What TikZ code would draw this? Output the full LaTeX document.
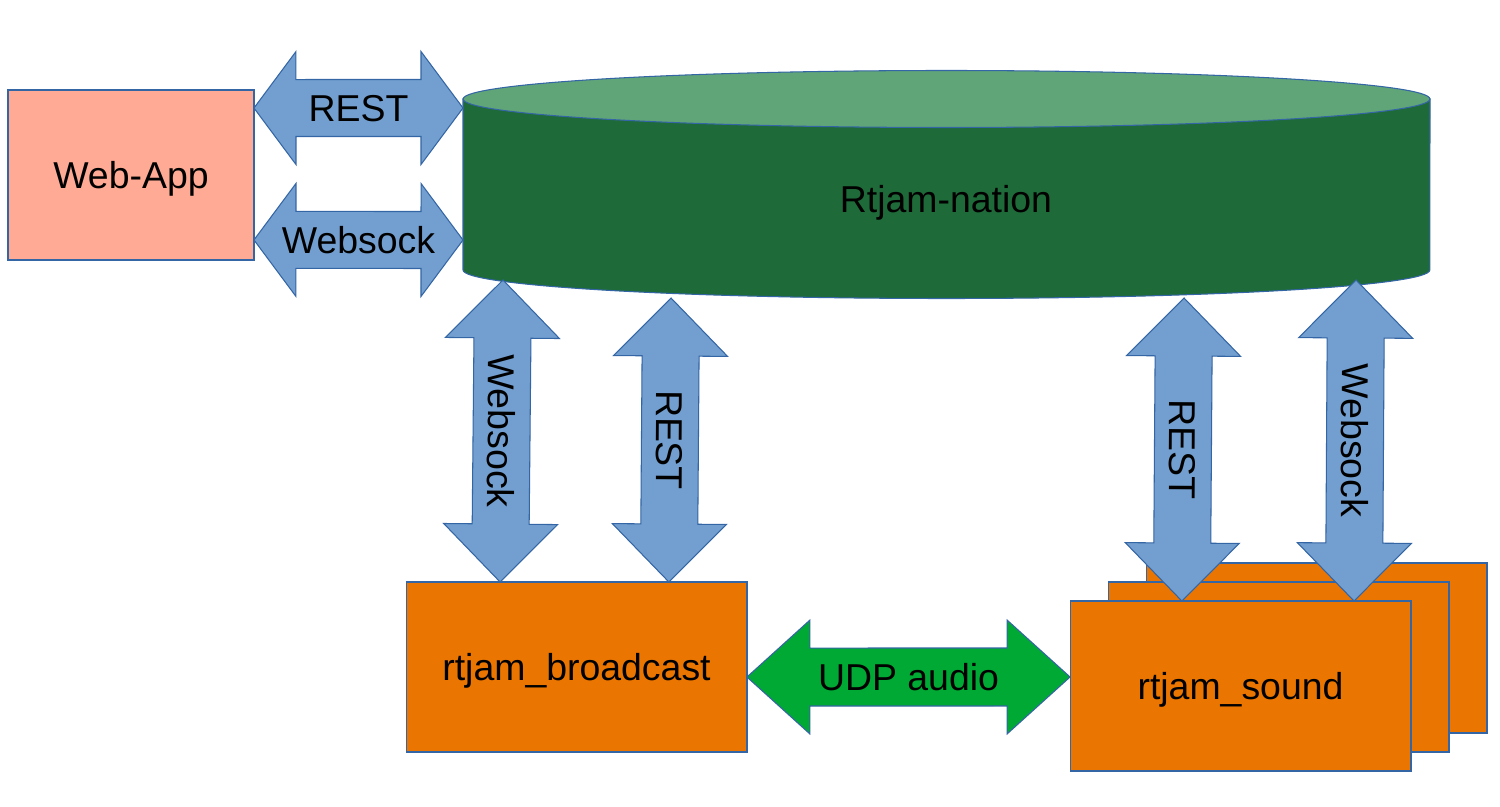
\documentclass[tikz,border=0pt]{standalone}
\usepackage{fontspec}
\setmainfont{Liberation Sans}
\usetikzlibrary{calc}

\definecolor{webfill}{HTML}{FFAA95}
\definecolor{linecol}{HTML}{3465A4}
\definecolor{arrowblue}{HTML}{729FCF}
\definecolor{udpgreen}{HTML}{00A933}
\definecolor{cylbody}{HTML}{1E6A39}
\definecolor{cyltop}{HTML}{60A578}
\definecolor{rtorange}{HTML}{EA7500}

\begin{document}
\begin{tikzpicture}[
  x=0.02cm, y=-0.02cm,
  font=\fontsize{21.3}{25.6}\selectfont,
  every node/.style={text height=15.3pt, text depth=0pt},
  head len/.store in=\headlen, head len=1.16cm,
  head half/.store in=\headhalf, head half=1.14cm,
  shaft half/.store in=\shafthalf, shaft half=0.57cm,
  fat/.style={draw=linecol, fill=arrowblue, line width=0.6pt, line join=miter,
    to path={
      -- ($(\tikztostart)!\headlen!(\tikztotarget)!\headhalf!90:(\tikztotarget)$)
      -- ($(\tikztostart)!\headlen!(\tikztotarget)!\shafthalf!90:(\tikztotarget)$)
      -- ($(\tikztotarget)!\headlen!(\tikztostart)!\shafthalf!-90:(\tikztostart)$)
      -- ($(\tikztotarget)!\headlen!(\tikztostart)!\headhalf!-90:(\tikztostart)$)
      -- (\tikztotarget)
      -- ($(\tikztotarget)!\headlen!(\tikztostart)!\headhalf!90:(\tikztostart)$)
      -- ($(\tikztotarget)!\headlen!(\tikztostart)!\shafthalf!90:(\tikztostart)$)
      -- ($(\tikztostart)!\headlen!(\tikztotarget)!\shafthalf!-90:(\tikztotarget)$)
      -- ($(\tikztostart)!\headlen!(\tikztotarget)!\headhalf!-90:(\tikztotarget)$)
      -- cycle}},
  lbl/.style={sloped, allow upside down, inner sep=0pt},
  box/.style={draw=linecol, line width=0.6pt, minimum width=6.82cm, minimum height=3.4cm, inner sep=0pt, outer sep=0pt}
]
\useasboundingbox (0,0) rectangle (1500,807);

% database
\filldraw[fill=cylbody, draw=linecol, line width=0.6pt] (463,99) -- (463,270)
  arc[start angle=180, end angle=360, x radius=9.67cm, y radius=0.57cm] -- (1430,99) -- cycle;
\filldraw[fill=cyltop, draw=linecol, line width=0.6pt] (946.5,99) ellipse[x radius=9.67cm, y radius=0.57cm];
\node (nation) at (946,199) {Rtjam-nation};

\node[box, fill=webfill, minimum width=4.92cm] (web) at (131,175) {Web-App};
\node[box, fill=rtorange] (bcast) at (576.5,667) {rtjam\_broadcast};
\node[box, fill=rtorange] (sound3) at (1316.5,648) {};
\node[box, fill=rtorange] (sound2) at (1278.5,667) {};
\node[box, fill=rtorange] (sound) at (1240.5,686) {rtjam\_sound};

% arrow ends
\coordinate (webrest) at ($(web.north east)!0.106!(web.south east)$);
\coordinate (webws) at ($(web.north east)!0.882!(web.south east)$);
\coordinate (natrest) at (463,108);
\coordinate (natws) at (463,240);
\coordinate (natws1) at (503,280);
\coordinate (natrest1) at (671,298);
\coordinate (natrest2) at (1184,298);
\coordinate (natws2) at (1356,280);
\coordinate (bcws) at ($(bcast.north west)!0.276!(bcast.north east)$);
\coordinate (bcrest) at ($(bcast.north west)!0.771!(bcast.north east)$);
\coordinate (bcudp) at ($(bcast.north east)!0.559!(bcast.south east)$);
\coordinate (sdrest) at ($(sound.north west)!0.328!(sound.north east)$);
\coordinate (sdws) at ($(sound.north west)!0.833!(sound.north east)$);
\coordinate (sdudp) at ($(sound.north west)!0.447!(sound.south west)$);

\path[head len=0.84cm, head half=1.13cm]
  (webrest) edge[fat] (natrest)
  (webws) edge[fat] (natws);
\path (natws1) edge[fat] (bcws)
  (natrest1) edge[fat] (bcrest)
  (natrest2) edge[fat] (sdrest)
  (natws2) edge[fat] (sdws);
\path[head len=1.26cm, shaft half=0.58cm]
  (bcudp) edge[fat, fill=udpgreen] (sdudp);

\path (webrest) -- node[lbl] {REST} (natrest);
\path (webws) -- node[lbl] {Websock} (natws);
\path (natws1) -- node[lbl] {Websock} (bcws);
\path (natrest1) -- node[lbl] {REST} (bcrest);
\path (natrest2) -- node[lbl] {REST} (sdrest);
\path (natws2) -- node[lbl] {Websock} (sdws);
\path (bcudp) -- node[lbl] {UDP audio} (sdudp);
\end{tikzpicture}
\end{document}
